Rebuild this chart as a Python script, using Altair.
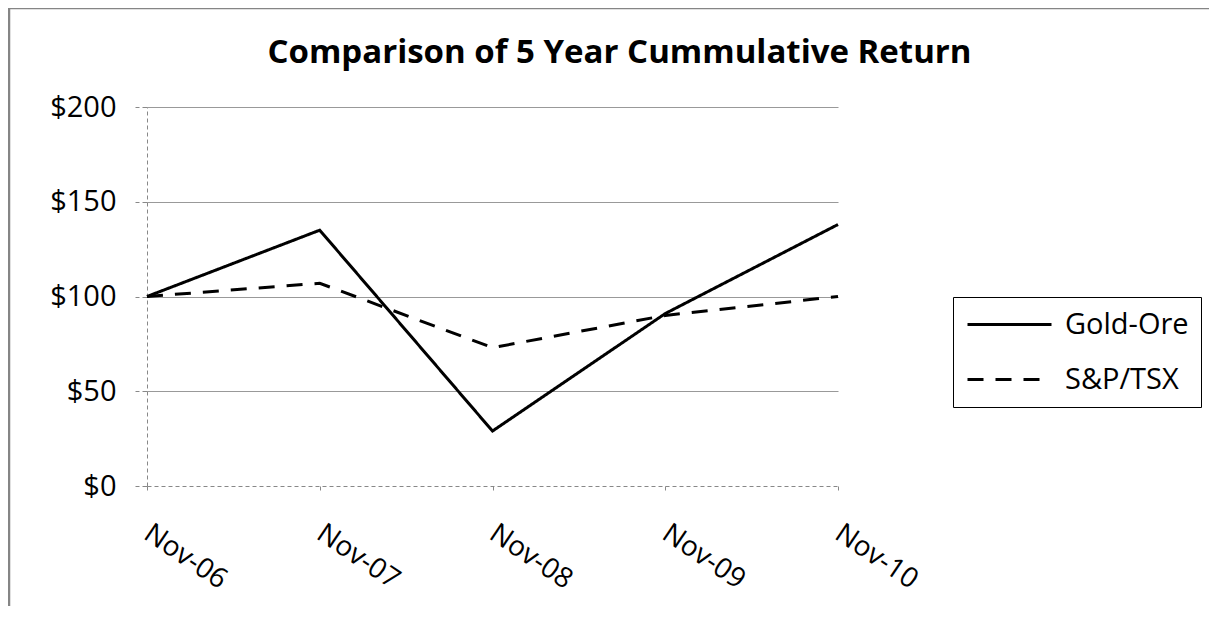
import altair as alt
import pandas as pd

periods = ["Nov-06", "Nov-07", "Nov-08", "Nov-09", "Nov-10"]
gold_ore = [100, 135, 29, 91, 138]
sp_tsx = [100, 107, 73, 90, 100]
series_names = ["Gold-Ore", "S&P/TSX"]
y_ticks = [0, 50, 100, 150, 200]

rows = []
for p, g, s in zip(periods, gold_ore, sp_tsx):
    rows.append({"period": p, "series": series_names[0], "value": g})
    rows.append({"period": p, "series": series_names[1], "value": s})
df = pd.DataFrame(rows)

FONT = "Open Sans"

lines = alt.Chart(df).mark_line(color="black", strokeWidth=3).encode(
    x=alt.X("period:N", sort=periods, title=None,
            scale=alt.Scale(type="point", padding=0),
            axis=alt.Axis(labelAngle=34, labelAlign="left", labelBaseline="top",
                          labelPadding=29, labelOffset=7, labelFontSize=28,
                          labelColor="black", tickSize=4, tickColor="#888",
                          domainColor="#888", domainDash=[4, 3], grid=False)),
    y=alt.Y("value:Q", title=None,
            scale=alt.Scale(domain=[0, 200]),
            axis=alt.Axis(values=y_ticks, format="$.0f", labelFontSize=29,
                          labelColor="black", labelPadding=19, tickSize=12,
                          tickColor="#888", tickDash=[5, 3], domainColor="#888",
                          domainDash=[4, 3], grid=True, gridColor="#999",
                          gridOpacity=alt.condition("datum.value === 0", alt.value(0), alt.value(1)))),
    strokeDash=alt.StrokeDash("series:N", sort=series_names,
                              scale=alt.Scale(domain=series_names, range=[[1, 0], [16, 12]]),
                              legend=alt.Legend(title=None, orient="none", legendX=806, legendY=190,
                                                symbolType="M-3,0H3", symbolSize=784,
                                                symbolStrokeWidth=3, symbolStrokeColor="black",
                                                symbolFillColor="transparent",
                                                symbolOffset=29, labelOffset=40,
                                                labelFontSize=29, labelColor="black",
                                                rowPadding=24, padding=12,
                                                strokeColor="black", fillColor="white")),
)

frame = alt.Chart(alt.Data(values=[{}])).mark_rect(
    fill="transparent", stroke="#858585", strokeWidth=2.5
).encode(x=alt.value(-138), y=alt.value(-99), x2=alt.value(1200), y2=alt.value(700))

chart = alt.layer(frame, lines).properties(
    width=691, height=379,
    title=alt.TitleParams("Comparison of 5 Year Cummulative Return", fontSize=33,
                          fontWeight="bold", font=FONT, anchor="middle", frame="group",
                          baseline="alphabetic", offset=-89, dx=127, color="black"),
    autosize=alt.AutoSizeParams(type="none"),
    padding={"left": 139, "top": 99, "right": 371, "bottom": 120},
).configure(font=FONT).configure_view(stroke=None)

chart.save("out.html", embed_options={"renderer": "svg", "actions": False})
